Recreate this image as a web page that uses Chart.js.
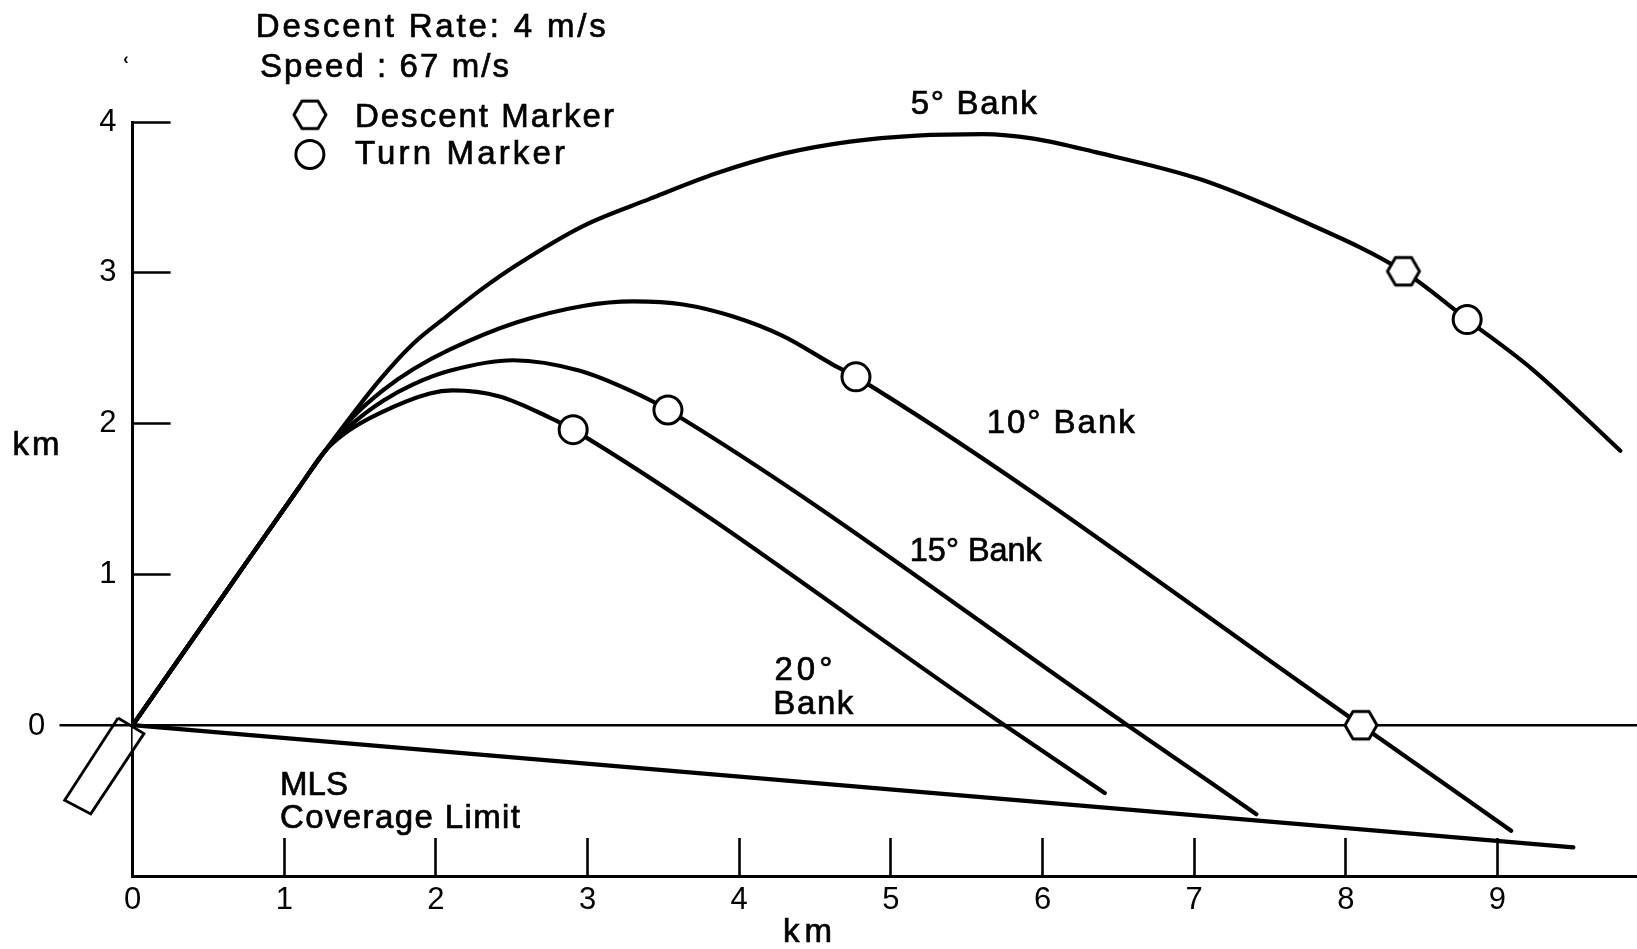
<!DOCTYPE html>
<html>
<head>
<meta charset="utf-8">
<script src="https://cdn.jsdelivr.net/npm/chart.js@4/dist/chart.umd.min.js"></script>
<style>
html,body{margin:0;padding:0;background:#fff;overflow:hidden;}
#wrap{width:1637px;height:949px;position:relative;}
canvas{display:block;}
</style>
</head>
<body>
<div id="wrap"><canvas id="c"></canvas></div>
<script>
// ---- axis ticks ----
const xTicks = [0,1,2,3,4,5,6,7,8,9];
const xTickLabels = ['0','1','2','3','4','5','6','7','8','9'];
const yTicks = [-1,0,1,2,3,4];
const yTickLabels = ['','0','1','2','3','4'];

// ---- trajectories (km, km) ----
const bank5 = [[0,0],[0.64,0.92],[1.10,1.58],[1.27,1.82],[1.63,2.29],[1.85,2.53],[2.07,2.71],[2.30,2.89],[2.53,3.05],[2.97,3.31],[3.41,3.49],[3.85,3.66],[4.29,3.79],[4.73,3.87],[5.17,3.91],[5.61,3.92],[5.94,3.89],[6.35,3.80],[7.04,3.62],[7.70,3.35],[8.38,3.01],[8.80,2.69],[9.23,2.36],[9.81,1.82]];
const bank10 = [[0,0],[0.64,0.92],[1.10,1.58],[1.27,1.82],[1.45,2.04],[1.65,2.22],[1.85,2.36],[2.09,2.49],[2.53,2.67],[2.97,2.78],[3.30,2.81],[3.63,2.79],[3.96,2.71],[4.29,2.58],[4.62,2.39],[4.77,2.31],[8.10,0],[9.09,-0.70]];
const bank15 = [[0,0],[0.64,0.92],[1.10,1.58],[1.27,1.82],[1.45,2.00],[1.65,2.15],[1.85,2.26],[2.09,2.35],[2.51,2.42],[2.95,2.35],[3.30,2.21],[3.53,2.09],[6.56,0],[7.41,-0.59]];
const bank20 = [[0,0],[0.64,0.92],[1.10,1.58],[1.27,1.82],[1.42,1.95],[1.63,2.07],[1.96,2.20],[2.11,2.22],[2.42,2.18],[2.75,2.04],[2.905,1.96],[5.75,0],[6.41,-0.45]];
const mlsLimit = [[0,0],[9.50,-0.81]];
const ground = [[-0.482,0],[9.92,0]];
const antenna = [[-0.096,0.048],[0.075,-0.056],[-0.276,-0.588],[-0.448,-0.498],[-0.096,0.048]];
const turnMarkers = [[8.80,2.69],[4.77,2.31],[3.53,2.09],[2.905,1.96]];
const descentMarkers = [[8.38,3.01],[8.10,0]];

// ---- text annotations (left x, baseline y in km; w = target width px) ----
const notes = [
  {t:'Descent Rate: 4 m/s', x:0.812, y:4.563, w:350},
  {t:'Speed : 67 m/s',      x:0.840, y:4.300, w:249},
  {t:'Descent Marker',      x:1.466, y:3.968, w:259},
  {t:'Turn Marker',         x:1.466, y:3.719, w:210},
  {t:'5° Bank',             x:5.131, y:4.051, w:126},
  {t:'10° Bank',            x:5.632, y:1.936, w:148},
  {t:'15° Bank',            x:5.125, y:1.091, w:132},
  {t:'20°',                 x:4.232, y:0.302, w:58},
  {t:'Bank',                x:4.225, y:0.073, w:80},
  {t:'MLS',                 x:0.972, y:-0.460, w:68},
  {t:'Coverage Limit',      x:0.972, y:-0.681, w:240}
];

const FONT = '"Liberation Sans", Arial, sans-serif';
const pts = a => a.map(p => ({x:p[0], y:p[1]}));

function makeHex(){
  const c = document.createElement('canvas');
  c.width = 40; c.height = 36;
  const g = c.getContext('2d');
  const r = 16, cx = 20, cy = 18;
  g.beginPath();
  for (let i = 0; i < 6; i++) {
    const a = Math.PI / 3 * i;
    g.lineTo(cx + r * Math.cos(a), cy + r * Math.sin(a));
  }
  g.closePath();
  g.fillStyle = '#fff'; g.fill();
  g.lineWidth = 3; g.strokeStyle = '#000'; g.lineJoin = 'round'; g.stroke();
  return c;
}
const hexImg = makeHex();

function drawSpaced(ctx, t, px, py, w){
  ctx.letterSpacing = '0px';
  const m = ctx.measureText(t).width;
  const sp = t.length > 1 ? (w - m) / (t.length - 1) : 0;
  if (sp < 0) { ctx.fillText(t, px, py, w); ctx.strokeText(t, px, py, w); return; }
  ctx.letterSpacing = sp + 'px';
  ctx.fillText(t, px, py);
  ctx.strokeText(t, px, py);
  ctx.letterSpacing = '0px';
}

const notesPlugin = {
  id: 'notes',
  afterDraw(chart){
    const ctx = chart.ctx, xs = chart.scales.x, ys = chart.scales.y;
    ctx.save();
    ctx.fillStyle = '#000';
    ctx.strokeStyle = '#000';
    ctx.lineWidth = 0.7;
    ctx.textAlign = 'left';
    ctx.textBaseline = 'alphabetic';
    ctx.font = '33px ' + FONT;
    notes.forEach(n => drawSpaced(ctx, n.t, xs.getPixelForValue(n.x), ys.getPixelForValue(n.y), n.w));
    // axis titles
    drawSpaced(ctx, 'km', 12.5, 455, 47);
    drawSpaced(ctx, 'km', 783, 942, 49);
    // zero label of y axis (set out to the left of the ground line)
    ctx.font = '31px ' + FONT;
    ctx.textAlign = 'center';
    ctx.textBaseline = 'middle';
    ctx.fillText('0', 36.5, ys.getPixelForValue(0) + 1);
    // legend symbols
    const lx = xs.getPixelForValue(1.169);
    ctx.drawImage(hexImg, lx - hexImg.width / 2, ys.getPixelForValue(4.048) - hexImg.height / 2);
    ctx.beginPath();
    ctx.arc(lx, ys.getPixelForValue(3.785), 14, 0, Math.PI * 2);
    ctx.fillStyle = '#fff'; ctx.fill();
    ctx.lineWidth = 3; ctx.strokeStyle = '#000'; ctx.stroke();
    // small stray mark
    ctx.fillStyle = '#000';
    ctx.font = 'bold 16px ' + FONT;
    ctx.fillText('‹', 126, 60);
    ctx.restore();
  }
};

const lineDs = (label, data, w) => ({
  label, data: pts(data), showLine: true, borderColor: '#000', borderWidth: w,
  pointRadius: 0, cubicInterpolationMode: 'monotone', fill: false, borderCapStyle: 'round'
});

new Chart(document.getElementById('c'), {
  type: 'scatter',
  data: {
    datasets: [
      {label:'Descent Marker', data: pts(descentMarkers), pointStyle: hexImg, pointRadius: 15, showLine: false},
      {label:'Turn Marker', data: pts(turnMarkers), pointStyle: 'circle', pointRadius: 14, borderWidth: 3,
       borderColor: '#000', backgroundColor: '#fff', showLine: false},
      lineDs('5° Bank', bank5, 4.2),
      lineDs('10° Bank', bank10, 4.2),
      lineDs('15° Bank', bank15, 4.2),
      lineDs('20° Bank', bank20, 4.2),
      Object.assign(lineDs('MLS Coverage Limit', mlsLimit, 4.3), {cubicInterpolationMode: 'default', tension: 0}),
      {label:'MLS antenna', data: pts(antenna), showLine: true, borderColor: '#000', borderWidth: 2.8,
       backgroundColor: '#fff', fill: 'shape', pointRadius: 0, tension: 0, clip: false},
      {label:'ground', data: pts(ground), showLine: true, borderColor: '#000', borderWidth: 2.6,
       pointRadius: 0, tension: 0, clip: false}
    ]
  },
  options: {
    responsive: true,
    maintainAspectRatio: false,
    animation: false,
    layout: {autoPadding: false, padding: {top: 122, left: 0, right: 0, bottom: 0}},
    plugins: {legend: {display: false}, tooltip: {enabled: false}},
    scales: {
      x: {
        type: 'linear', min: 0, max: 9.92,
        afterBuildTicks: a => { a.ticks = xTicks.map(v => ({value: v})); },
        afterFit: s => { s.height = 73; s.paddingLeft = 0; s.paddingRight = 0; },
        grid: {drawOnChartArea: false, drawTicks: true, tickLength: -38, tickWidth: 2.6, tickColor: '#000'},
        border: {display: true, color: '#000', width: 3},
        ticks: {padding: 44, color: '#000', font: {family: FONT, size: 31}, autoSkip: false, maxRotation: 0,
                callback: v => xTickLabels[xTicks.indexOf(v)]}
      },
      y: {
        type: 'linear', min: -1, max: 4,
        afterBuildTicks: a => { a.ticks = yTicks.map(v => ({value: v})); },
        afterFit: s => { s.width = 132.6; },
        grid: {drawOnChartArea: false, drawTicks: true, tickLength: -38, tickWidth: 2.6, tickColor: '#000'},
        border: {display: true, color: '#000', width: 3},
        ticks: {padding: 54, color: '#000', font: {family: FONT, size: 31}, autoSkip: false,
                callback: v => { const i = yTicks.indexOf(v); return v === 0 ? '' : yTickLabels[i]; }}
      }
    }
  },
  plugins: [notesPlugin]
});
</script>
</body>
</html>
